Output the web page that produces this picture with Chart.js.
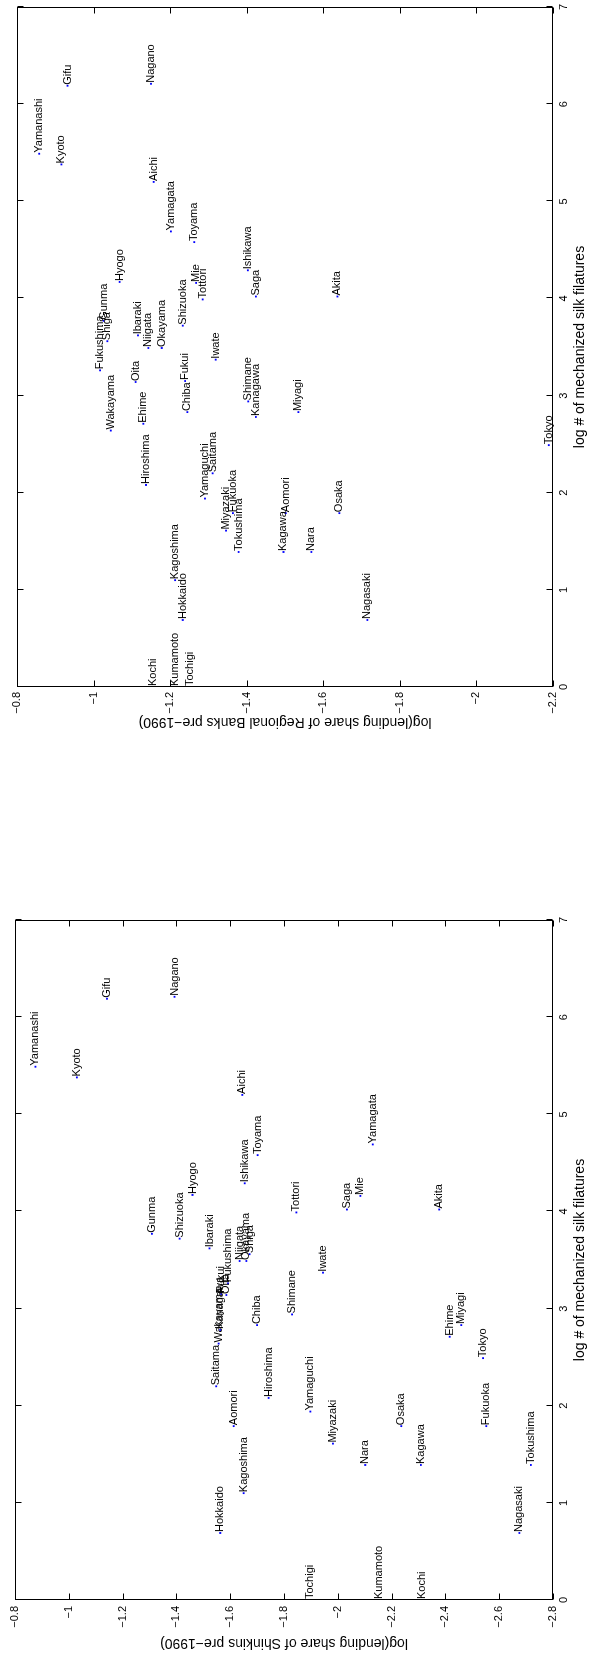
<!DOCTYPE html>
<html>
<head>
<meta charset="utf-8">
<script src="https://cdn.jsdelivr.net/npm/chart.js@4/dist/chart.umd.min.js"></script>
<style>
  html, body { margin: 0; padding: 0; background: #fff; }
  body { width: 590px; height: 1660px; position: relative; overflow: hidden; }
  .panel { position: absolute; left: 0; transform-origin: 0 0; transform: rotate(-90deg); }
</style>
</head>
<body>
<div class="panel" id="topPanel" style="top:745px;width:745px;height:590px"><canvas id="regional-chart" width="745" height="590"></canvas></div>
<div class="panel" id="bottomPanel" style="top:1660px;width:747px;height:590px"><canvas id="shinkin-chart" width="747" height="590"></canvas></div>
<script>
const prefectures = ['Hokkaido','Aomori','Iwate','Miyagi','Akita','Yamagata','Fukushima','Ibaraki','Tochigi','Gunma',
    'Saitama','Chiba','Tokyo','Kanagawa','Niigata','Toyama','Ishikawa','Fukui','Yamanashi','Nagano',
    'Gifu','Shizuoka','Aichi','Mie','Shiga','Kyoto','Osaka','Hyogo','Nara','Wakayama',
    'Tottori','Shimane','Okayama','Hiroshima','Yamaguchi','Tokushima','Kagawa','Ehime','Kochi','Fukuoka',
    'Saga','Nagasaki','Kumamoto','Oita','Miyazaki','Kagoshima'];

// log # of mechanized silk filatures
const silkLog = [0.69,1.79,3.37,2.83,4.02,4.69,3.26,3.62,0,3.77,
    2.20,2.83,2.49,2.78,3.49,4.58,4.29,3.15,5.49,6.21,
    6.19,3.72,5.20,4.16,3.56,5.38,1.79,4.17,1.39,2.64,
    3.99,2.94,3.49,2.08,1.94,1.39,1.39,2.71,0,1.79,
    4.02,0.69,0,3.14,1.61,1.10];

// log(lending share of Regional Banks pre-1990)
const regionalShare = [-1.233,-1.502,-1.319,-1.535,-1.637,-1.202,-1.017,-1.116,-1.252,-1.026,
    -1.311,-1.245,-2.189,-1.424,-1.143,-1.263,-1.403,-1.239,-0.858,-1.150,
    -0.932,-1.233,-1.157,-1.268,-1.036,-0.916,-1.642,-1.068,-1.569,-1.045,
    -1.285,-1.404,-1.178,-1.137,-1.291,-1.379,-1.496,-1.130,-1.156,-1.364,
    -1.424,-1.715,-1.213,-1.110,-1.346,-1.213];

// log(lending share of Shinkins pre-1990)
const shinkinShare = [-1.563,-1.613,-1.945,-2.459,-2.377,-2.130,-1.592,-1.523,-1.895,-1.309,
    -1.548,-1.700,-2.540,-1.563,-1.635,-1.702,-1.654,-1.566,-0.876,-1.393,
    -1.142,-1.412,-1.645,-2.084,-1.672,-1.030,-2.236,-1.460,-2.102,-1.557,
    -1.846,-1.830,-1.660,-1.743,-1.898,-2.718,-2.309,-2.416,-2.313,-2.552,
    -2.034,-2.675,-2.152,-1.586,-1.982,-1.650];

const xTicks = [0, 7, 1];
const regionalTicks = [-2.2, -0.8, 0.2];
const shinkinTicks = [-2.8, -0.8, 0.2];

const fontFamily = '"Liberation Sans", Arial, Helvetica, sans-serif';

// box round the plot with inward ticks on all four sides
const framePlugin = {
    id: 'frame',
    afterDraw(chart) {
        const {ctx, chartArea: a, scales: {x, y}} = chart;
        const len = 6;
        ctx.save();
        ctx.strokeStyle = '#000';
        ctx.lineWidth = 1;
        const L = Math.round(a.left) + 0.5, R = Math.round(a.right) - 0.5;
        const T = Math.round(a.top) + 0.5, B = Math.round(a.bottom) - 0.5;
        ctx.strokeRect(L, T, R - L, B - T);
        ctx.beginPath();
        x.ticks.forEach(t => {
            const px = Math.round(x.getPixelForValue(t.value)) + 0.5;
            ctx.moveTo(px, B); ctx.lineTo(px, B - len);
            ctx.moveTo(px, T); ctx.lineTo(px, T + len);
        });
        y.ticks.forEach(t => {
            const py = Math.round(y.getPixelForValue(t.value)) + 0.5;
            ctx.moveTo(L, py); ctx.lineTo(L + len, py);
            ctx.moveTo(R, py); ctx.lineTo(R - len, py);
        });
        ctx.stroke();
        ctx.restore();
    }
};

// prefecture names written from each dot
const namePlugin = {
    id: 'names',
    afterDatasetsDraw(chart) {
        const {ctx} = chart;
        const meta = chart.getDatasetMeta(0);
        ctx.save();
        ctx.font = '11px ' + fontFamily;
        ctx.fillStyle = '#000';
        ctx.textAlign = 'left';
        ctx.textBaseline = 'middle';
        meta.data.forEach((pt, i) => {
            ctx.fillText(prefectures[i], pt.x + 1, pt.y);
        });
        ctx.restore();
    }
};

function tickLabel(value) {
    return (Math.round(value * 10) / 10).toString().replace('-', '\u2212');
}

function makeChart(id, shares, yRange, yTitle, s) {
    return new Chart(id, {
        type: 'scatter',
        data: {
            datasets: [{
                data: silkLog.map((v, i) => ({x: v, y: shares[i]})),
                backgroundColor: '#0000ff',
                borderWidth: 0,
                pointRadius: 1.3,
                pointStyle: 'rect'
            }]
        },
        options: {
            responsive: false,
            animation: false,
            events: [],
            layout: {padding: {top: s.top, right: 4, left: 0, bottom: 0}},
            plugins: {legend: {display: false}, tooltip: {enabled: false}},
            scales: {
                x: {
                    type: 'linear',
                    min: xTicks[0], max: xTicks[1],
                    grid: {display: false, drawTicks: false},
                    border: {display: false},
                    ticks: {stepSize: xTicks[2], padding: 4, color: '#000', maxRotation: 0,
                        font: {family: fontFamily, size: 11}, callback: tickLabel},
                    title: {display: true, text: 'log # of mechanized silk filatures', color: '#000',
                        font: {family: fontFamily, size: 14}, padding: {top: 0, bottom: 1}},
                    afterFit: sc => { sc.height = 37; }
                },
                y: {
                    type: 'linear',
                    min: yRange[0], max: yRange[1],
                    grid: {display: false, drawTicks: false},
                    border: {display: false},
                    ticks: {stepSize: yRange[2], padding: s.tickPad, color: '#000',
                        font: {family: fontFamily, size: 11}, callback: tickLabel},
                    title: {display: true, text: yTitle, color: '#000',
                        font: {family: fontFamily, size: 14}, padding: {top: s.titlePad, bottom: 0}},
                    afterFit: sc => { sc.width = s.left; }
                }
            }
        },
        plugins: [framePlugin, namePlugin]
    });
}

let regionalChart = makeChart('regional-chart', regionalShare, regionalTicks,
    'log(lending share of Regional Banks pre\u22121990)', {top: 17, left: 58, tickPad: 5, titlePad: 15});
let shinkinChart = makeChart('shinkin-chart', shinkinShare, shinkinTicks,
    'log(lending share of Shinkins pre\u22121990)', {top: 15, left: 60, tickPad: 6, titlePad: 9});
</script>
</body>
</html>
